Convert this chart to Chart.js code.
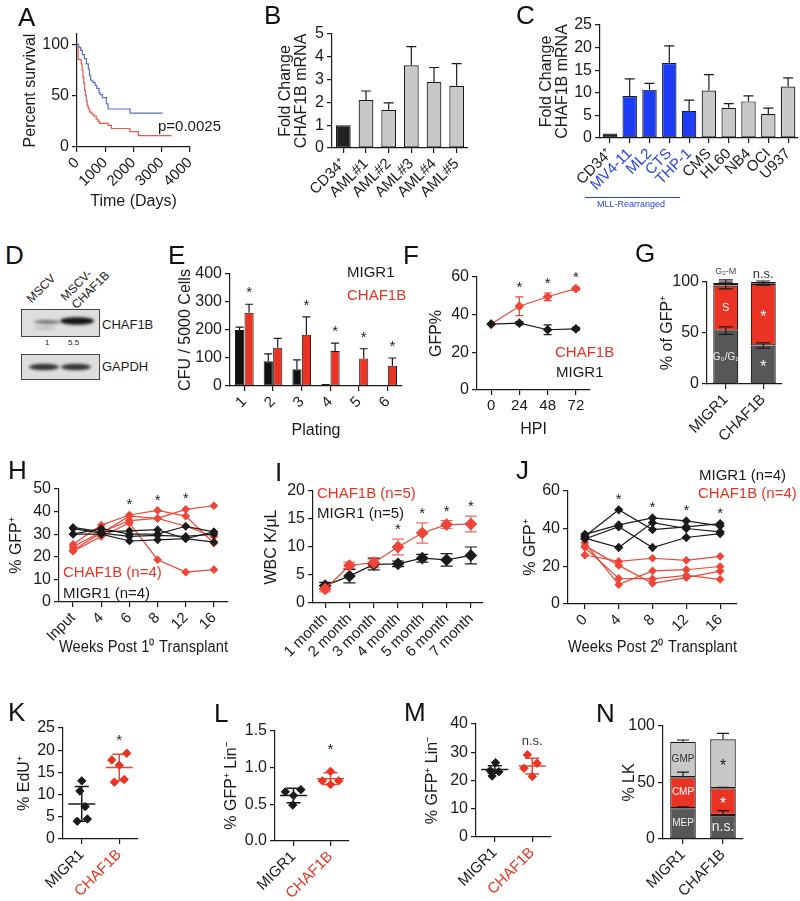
<!DOCTYPE html>
<html><head><meta charset="utf-8"><title>CHAF1B figure</title>
<script src="https://cdn.jsdelivr.net/npm/chart.js@4.4.1/dist/chart.umd.min.js"></script>
<style>
html,body{margin:0;padding:0;background:#fff;}
body{position:relative;width:800px;height:901px;overflow:hidden;font-family:'Liberation Sans',Arial,Helvetica,sans-serif;color:#1b1b1b;}
.tx{position:absolute;white-space:nowrap;line-height:1;}
.lt{position:absolute;font-size:26px;line-height:1;color:#111;}
.rot{transform:rotate(-45deg);transform-origin:0 100%;}
.red{color:#ea3323;}
</style></head><body>
<!-- panel letters -->
<div class="lt" style="left:18px;top:4px">A</div>
<div class="lt" style="left:264px;top:2px">B</div>
<div class="lt" style="left:516px;top:2px">C</div>
<div class="lt" style="left:5px;top:242px">D</div>
<div class="lt" style="left:168px;top:242px">E</div>
<div class="lt" style="left:403px;top:242px">F</div>
<div class="lt" style="left:635px;top:240px">G</div>
<div class="lt" style="left:8px;top:457px">H</div>
<div class="lt" style="left:275px;top:459px">I</div>
<div class="lt" style="left:516px;top:457px">J</div>
<div class="lt" style="left:8px;top:699px">K</div>
<div class="lt" style="left:214px;top:700px">L</div>
<div class="lt" style="left:404px;top:699px">M</div>
<div class="lt" style="left:596px;top:700px">N</div>

<!-- free text -->
<div class="tx" style="left:158px;top:118px;font-size:15px">p=0.0025</div>
<div class="tx" style="left:585px;top:197px;width:95px;height:1px;background:#2844f0"></div>
<div class="tx" style="left:597px;top:200px;font-size:9px;color:#2844f0">MLL-Rearranged</div>

<div class="tx rot" style="left:33px;top:293px;font-size:12px">MSCV</div>
<div class="tx rot" style="left:67px;top:291px;font-size:12px">MSCV-</div>
<div class="tx rot" style="left:78px;top:299px;font-size:12px">CHAF1B</div>
<div class="tx" style="left:102px;top:318px;font-size:13px">CHAF1B</div>
<div class="tx" style="left:102px;top:360px;font-size:13px">GAPDH</div>
<div class="tx" style="left:45px;top:339px;font-size:8px">1</div>
<div class="tx" style="left:68px;top:339px;font-size:8px">5.5</div>

<div class="tx" style="left:347px;top:264px;font-size:15px">MIGR1</div>
<div class="tx red" style="left:347px;top:287px;font-size:15px">CHAF1B</div>
<div class="tx red" style="left:555px;top:344px;font-size:15px">CHAF1B</div>
<div class="tx" style="left:556px;top:364px;font-size:15px">MIGR1</div>
<div class="tx red" style="left:63px;top:564px;font-size:15px">CHAF1B (n=4)</div>
<div class="tx" style="left:63px;top:585px;font-size:15px">MIGR1 (n=4)</div>
<div class="tx red" style="left:317px;top:485px;font-size:15px">CHAF1B (n=5)</div>
<div class="tx" style="left:317px;top:505px;font-size:15px">MIGR1 (n=5)</div>
<div class="tx" style="left:699px;top:467px;font-size:15px">MIGR1 (n=4)</div>
<div class="tx red" style="left:698px;top:485px;font-size:15px">CHAF1B (n=4)</div>

<canvas id="blot" width="110" height="90" style="position:absolute;left:0;top:300px;width:110px;height:90px"></canvas>

<script>
// ================= DATA =================
// A: Kaplan-Meier
const survBlueDays = [0, 60, 130, 190, 260, 330, 400, 440, 480, 560, 640, 700, 780, 820, 900, 1040, 1100, 1880, 3030];
const survBluePct  = [100, 97, 94, 90, 86, 81, 76, 70, 65, 63, 60, 57, 53, 51, 48, 42, 37, 33, 33];
const survRedDays  = [0, 40, 150, 180, 210, 240, 270, 300, 330, 360, 400, 450, 520, 600, 680, 750, 800, 1100, 1220, 1870, 2170, 3350];
const survRedPct   = [100, 85, 81, 75, 68, 62, 55, 50, 45, 40, 37, 34, 32, 30, 27, 25, 23, 21, 18, 15, 11, 11];
const survTicks = [0, 1000, 2000, 3000, 4000];
// B
const bLabels = ['CD34\u207A', 'AML#1', 'AML#2', 'AML#3', 'AML#4', 'AML#5'];
const bValues = [1.0, 2.1, 1.68, 3.63, 2.9, 2.73];
const bErrors = [0, 0.4, 0.3, 0.82, 0.63, 0.97];
// C
const cLabels = ['CD34\u207A', 'MV4-11', 'ML2', 'CTS', 'THP-1', 'CMS', 'HL60', 'NB4', 'OCI', 'U937'];
const cValues = [1.0, 9.3, 10.7, 16.6, 6.0, 10.5, 6.7, 8.1, 5.3, 11.4];
const cErrors = [0, 3.8, 1.4, 3.8, 2.4, 3.5, 0.9, 1.2, 1.3, 1.9];
const cGroup  = ['ctrl', 'mll', 'mll', 'mll', 'mll', 'other', 'other', 'other', 'other', 'other'];
// E
const ePlating = ['1', '2', '3', '4', '5', '6'];
const eMigr1 = [200, 88, 60, 3, 0, 0];
const eMigr1Err = [10, 27, 33, 2, 0, 0];
const eChaf1b = [262, 137, 183, 125, 98, 72];
const eChaf1bErr = [30, 33, 64, 28, 35, 28];
const eStars = [0, 2, 3, 4, 5];
// F
const fHours = ['0', '24', '48', '72'];
const fChaf1b = [35, 44.5, 49.5, 53.8];
const fChaf1bErr = [0, 5, 2, 0.8];
const fMigr1 = [35, 35.5, 32, 32.5];
const fMigr1Err = [0, 0.8, 2.6, 0.8];
const fStars = [1, 2, 3];
// G
const gGroups = ['MIGR1', 'CHAF1B'];
const gG0G1 = [52.3, 37.7];
const gG0G1Err = [3.7, 2.6];
const gS = [44.2, 60.5];
const gSErr = [3.3, 1.2];
const gG2M = [2.5, 1.8];
const gG2MErr = [3, 1];
// H
const hWeeks = ['Input', '4', '6', '8', '12', '16'];
const hMigr1 = [
  [33, 31, 31.5, 32, 28, 31],
  [32.5, 30.5, 29, 29.5, 29, 30],
  [30, 30, 27, 27.5, 28, 26.5],
  [30, 32.5, 30, 30, 33.5, 31]
];
const hChaf1b = [
  [25.5, 34, 38.5, 40.5, 38, 26],
  [23, 30.5, 38, 37, 41, 42.6],
  [24.5, 31, 36, 37, 33.5, 29],
  [22.5, 29, 35, 18.7, 13.2, 14.3]
];
const hStars = [2, 3, 4];
// I
const iMonths = ['1 month', '2 month', '3 month', '4 month', '5 month', '6 month', '7 month'];
const iChaf1b = [2.5, 6.7, 7.2, 10.0, 12.5, 14.0, 14.1];
const iChaf1bErr = [0.5, 0.6, 0.9, 1.4, 1.8, 0.7, 1.4];
const iMigr1 = [3.1, 4.8, 6.9, 7.0, 8.0, 7.7, 8.5];
const iMigr1Err = [0.6, 1.2, 1.0, 0.5, 0.7, 1.1, 1.5];
const iStars = [3, 4, 5, 6];
// J
const jWeeks = ['0', '4', '8', '12', '16'];
const jMigr1 = [
  [36, 50, 39.5, 41, 42.7],
  [37, 42, 45.7, 44.1, 41.5],
  [35, 30, 43.2, 40.1, 38.3],
  [34.5, 41, 30, 35.3, 37.4]
];
const jChaf1b = [
  [26, 22.6, 24.3, 23.2, 25.3],
  [31, 20.5, 11, 14, 17.5],
  [30, 13.6, 13.3, 15.2, 13.1],
  [32.5, 10.3, 17.6, 18.2, 19.9]
];
const jStars = [1, 2, 3, 4];
// K, L, M (individual mice)
const kmGroups = ['MIGR1', 'CHAF1B'];
const kMigr1 = [13.1, 10.8, 7.3, 4.5, 4.0];
const kMigr1Jit = [0, -0.05, 0.09, 0.15, -0.12];
const kChaf1b = [19.3, 17.8, 16.6, 13.4, 12.8];
const kChaf1bJit = [0.2, -0.2, 0, 0.13, -0.13];
const kMean = [7.9, 16.1];
const kSd = [3.9, 3.0];
const lMigr1 = [0.70, 0.67, 0.62, 0.49];
const lMigr1Jit = [0.2, -0.22, 0, -0.02];
const lChaf1b = [0.95, 0.82, 0.82, 0.77];
const lChaf1bJit = [0, -0.22, 0.22, 0];
const lMean = [0.62, 0.85];
const lSd = [0.1, 0.08];
const mMigr1 = [26.3, 23.5, 23.1, 21.6];
const mMigr1Jit = [0.02, -0.12, 0.11, -0.07];
const mChaf1b = [29.1, 26.1, 24.3, 21.4];
const mChaf1bJit = [-0.13, 0.13, -0.22, 0];
const mMean = [23.9, 25.1];
const mSd = [1.3, 2.8];
// N
const nGroups = ['MIGR1', 'CHAF1B'];
const nMEP = [27.2, 21.3];
const nMEPErr = [1.2, 3.8];
const nCMP = [27.5, 23.7];
const nCMPErr = [4.5, 0.8];
const nGMP = [31.4, 43.2];
const nGMPErr = [1.5, 5.3];

// ================= STYLE =================
const FONT = "'Liberation Sans', Arial, Helvetica, sans-serif";
const INK = '#1b1b1b', RED = '#ea3323', RED_L = '#ef4538', RED_E = '#f26a5e';
const BLUE = '#1c3cf5', BLUE_T = '#2844f0';
const GRAY_L = '#c8c8c8', GRAY_D = '#575757';

Chart.defaults.font.family = FONT;
Chart.defaults.color = INK;
Chart.defaults.animation = false;
Chart.defaults.events = [];
Chart.defaults.plugins.legend.display = false;
Chart.defaults.plugins.tooltip.enabled = false;

const fnt = (size, extra) => Object.assign({family: FONT, size: size, lineHeight: 1}, extra || {});
const gridOpt = {display: true, drawOnChartArea: false, drawTicks: true, tickLength: 5, color: INK, lineWidth: 1.2, offset: false};
const borderOpt = {display: true, color: INK, width: 1.2};

function yAx(min, max, ticks, title, tcx, cl, fmt) {
  return {
    type: 'linear', min: min, max: max,
    afterBuildTicks: s => { s.ticks = ticks.map(v => ({value: v})); },
    ticks: {color: INK, font: fnt(16), padding: 3, callback: fmt || (v => String(v))},
    grid: Object.assign({}, gridOpt), border: Object.assign({}, borderOpt),
    title: title ? {display: true, text: title, color: INK, font: fnt(16), padding: {top: tcx - cl - 8, bottom: 0}} : {display: false}
  };
}
function xCat(labels, rot, title, tcy, cb, colorFn) {
  return {
    type: 'category', labels: labels, offset: true,
    grid: Object.assign({}, gridOpt), border: Object.assign({}, borderOpt),
    ticks: {color: colorFn || INK, font: fnt(15), padding: 3, minRotation: rot, maxRotation: rot, autoSkip: false},
    title: title ? {display: true, text: title, color: INK, font: fnt(16), padding: {top: 0, bottom: cb - tcy - 8}} : {display: false}
  };
}
function xGroup(labels, colorFn) {
  return {
    type: 'linear', min: -0.5, max: 1.5,
    afterBuildTicks: s => { s.ticks = labels.map((l, i) => ({value: i})); },
    grid: Object.assign({}, gridOpt), border: Object.assign({}, borderOpt),
    ticks: {color: colorFn || INK, font: fnt(15), padding: 3, minRotation: 45, maxRotation: 45, callback: v => labels[v]}
  };
}

function panel(box, plot, cfg) {
  const cl = box[0], ct = box[1], cw = box[2], ch = box[3];
  const pl = plot[0], pt = plot[1], pr = plot[2], pb = plot[3];
  const cv = document.createElement('canvas');
  cv.width = cw; cv.height = ch;
  cv.style.cssText = 'position:absolute;left:' + cl + 'px;top:' + ct + 'px;width:' + cw + 'px;height:' + ch + 'px';
  document.body.insertBefore(cv, document.body.firstChild);
  const o = cfg.options;
  o.responsive = false; o.maintainAspectRatio = false; o.devicePixelRatio = 1;
  o.layout = {padding: {left: 0, top: pt - ct, right: cl + cw - pr, bottom: 0}};
  o.scales.x.afterFit = s => { s.height = ct + ch - pb; s.paddingLeft = 0; s.paddingRight = 0; };
  o.scales.y.afterFit = s => { s.width = pl - cl; s.paddingTop = 0; s.paddingBottom = 0; };
  return new Chart(cv.getContext('2d'), cfg);
}

// error bars drawn through the chart's own elements and y scale
function errPlugin(specs, before) {
  const draw = chart => {
    const ctx = chart.ctx, ys = chart.scales.y;
    ctx.save();
    specs.forEach(sp => {
      const meta = chart.getDatasetMeta(sp.ds);
      meta.data.forEach((el, j) => {
        const e = sp.err[j];
        if (!e) return;
        const top = ys.getValueForPixel(el.y);
        const x = el.x;
        const y1 = ys.getPixelForValue(top + e);
        const y0 = sp.mode === 'both' ? ys.getPixelForValue(top - e) : el.y;
        ctx.strokeStyle = sp.color || INK; ctx.lineWidth = sp.width || 1.2;
        ctx.beginPath();
        ctx.moveTo(x, y0); ctx.lineTo(x, y1);
        ctx.moveTo(x - sp.cap, y1); ctx.lineTo(x + sp.cap, y1);
        if (sp.mode === 'both') { ctx.moveTo(x - sp.cap, y0); ctx.lineTo(x + sp.cap, y0); }
        ctx.stroke();
      });
    });
    ctx.restore();
  };
  return before ? {id: 'errbars', beforeDatasetsDraw: draw} : {id: 'errbars', afterDatasetsDraw: draw};
}
// text annotations positioned by data values
function textPlugin(items) {
  return {id: 'annot', afterDatasetsDraw(chart) {
    const ctx = chart.ctx, xs = chart.scales.x, ys = chart.scales.y;
    ctx.save();
    ctx.textAlign = 'center'; ctx.textBaseline = 'middle';
    items.forEach(it => {
      ctx.font = (it.size || 15) + 'px ' + FONT;
      ctx.fillStyle = it.color || INK;
      let x = it.ds != null ? chart.getDatasetMeta(it.ds).data[it.x].x : xs.getPixelForValue(it.x);
      ctx.fillText(it.text, x + (it.dx || 0), ys.getPixelForValue(it.y) + (it.dy || 0));
    });
    ctx.restore();
  }};
}
// mean +/- SD markers
function meanSdPlugin(specs) {
  return {id: 'meansd', beforeDatasetsDraw(chart) {
    const ctx = chart.ctx, xs = chart.scales.x, ys = chart.scales.y;
    ctx.save();
    specs.forEach(sp => {
      const x = xs.getPixelForValue(sp.x), m = ys.getPixelForValue(sp.mean);
      const a = ys.getPixelForValue(sp.mean + sp.sd), b = ys.getPixelForValue(sp.mean - sp.sd);
      ctx.strokeStyle = sp.color; ctx.lineWidth = 1.5;
      ctx.beginPath();
      ctx.moveTo(x - 13.5, m); ctx.lineTo(x + 13.5, m);
      ctx.moveTo(x, a); ctx.lineTo(x, b);
      ctx.moveTo(x - 7, a); ctx.lineTo(x + 7, a);
      ctx.moveTo(x - 7, b); ctx.lineTo(x + 7, b);
      ctx.stroke();
    });
    ctx.restore();
  }};
}
const maxCol = (rows, i) => Math.max.apply(null, rows.map(r => r[i]));

// ================= A =================
panel([20, 20, 240, 192], [77, 34, 190, 147], {
  type: 'line',
  data: {datasets: [
    {data: survBlueDays.map((d, i) => ({x: d, y: survBluePct[i]})), borderColor: '#5a71c6', borderWidth: 1.2, pointRadius: 0, stepped: true},
    {data: survRedDays.map((d, i) => ({x: d, y: survRedPct[i]})), borderColor: '#f1574c', borderWidth: 1.2, pointRadius: 0, stepped: true}
  ]},
  options: {scales: {
    x: {type: 'linear', min: 0, max: 4000,
        afterBuildTicks: s => { s.ticks = survTicks.map(v => ({value: v})); },
        grid: Object.assign({}, gridOpt), border: Object.assign({}, borderOpt),
        ticks: {color: INK, font: fnt(15), padding: 3, minRotation: 45, maxRotation: 45, callback: v => String(v)},
        title: {display: true, text: 'Time (Days)', color: INK, font: fnt(16), padding: {top: 0, bottom: 2}}},
    y: yAx(0, 110, [0, 50, 100], 'Percent survival', 31, 20)
  }}
});

// ================= B =================
panel([270, 20, 205, 230], [332, 34, 468, 148], {
  type: 'bar',
  data: {labels: bLabels, datasets: [{data: bValues,
    backgroundColor: bValues.map((v, i) => i === 0 ? '#222' : GRAY_L),
    borderColor: INK, borderWidth: 1.2, borderSkipped: false, barPercentage: 0.65, categoryPercentage: 1}]},
  options: {scales: {x: xCat(bLabels, 45), y: yAx(0, 5, [0, 1, 2, 3, 4, 5], ['Fold Change', 'CHAF1B mRNA'], 286, 270)}},
  plugins: [errPlugin([{ds: 0, err: bErrors, mode: 'up', cap: 5}])]
});

// ================= C =================
panel([535, 10, 265, 200], [600, 25, 798, 138], {
  type: 'bar',
  data: {labels: cLabels, datasets: [{data: cValues,
    backgroundColor: cGroup.map(g => g === 'ctrl' ? '#222' : g === 'mll' ? BLUE : GRAY_L),
    borderColor: INK, borderWidth: 1.2, borderSkipped: false, barPercentage: 0.73, categoryPercentage: 1}]},
  options: {scales: {x: xCat(cLabels, 45, null, 0, 0, ctx => cGroup[ctx.index] === 'mll' ? BLUE_T : INK),
                     y: yAx(0, 25, [0, 5, 10, 15, 20, 25], ['Fold Change', 'CHAF1B mRNA'], 547, 535)}},
  plugins: [errPlugin([{ds: 0, err: cErrors, mode: 'up', cap: 5}])]
});

// ================= D (western blot image) =================
(function () {
  const c = document.getElementById('blot').getContext('2d');
  const oy = 300;
  function box(y0, y1) {
    c.fillStyle = '#dedede'; c.fillRect(21, y0 - oy, 79, y1 - y0);
    c.strokeStyle = '#444'; c.lineWidth = 1; c.strokeRect(21.5, y0 - oy + 0.5, 78, y1 - y0 - 1);
  }
  function band(cx, cy, rx, ry, col) {
    c.save(); c.filter = 'blur(1.6px)'; c.fillStyle = col;
    c.beginPath(); c.ellipse(cx, cy - oy, rx, ry, 0, 0, Math.PI * 2); c.fill(); c.restore();
  }
  box(309, 337); box(354, 380);
  band(47, 322, 13, 2.2, 'rgba(60,60,60,0.6)');
  band(45, 328, 10, 1.3, 'rgba(90,90,90,0.3)');
  band(77, 321, 17, 3.8, 'rgba(8,8,8,0.95)');
  band(44, 367, 15, 3.2, 'rgba(20,20,20,0.85)');
  band(76, 367, 15, 3.2, 'rgba(20,20,20,0.85)');
})();

// ================= E =================
panel([175, 255, 240, 185], [230, 274, 402, 386], {
  type: 'bar',
  data: {labels: ePlating, datasets: [
    {data: eMigr1, backgroundColor: '#111', borderColor: INK, borderWidth: 1, borderSkipped: false, barPercentage: 0.97, categoryPercentage: 0.66},
    {data: eChaf1b, backgroundColor: RED, borderColor: INK, borderWidth: 1, borderSkipped: false, barPercentage: 0.97, categoryPercentage: 0.66}
  ]},
  options: {scales: {x: xCat(ePlating, 45, 'Plating', 431, 440), y: yAx(0, 400, [0, 100, 200, 300, 400], 'CFU / 5000 Cells', 186, 175)}},
  plugins: [errPlugin([{ds: 0, err: eMigr1Err, mode: 'up', cap: 4}, {ds: 1, err: eChaf1bErr, mode: 'up', cap: 4}]),
            textPlugin(eStars.map(i => ({ds: 1, x: i, y: eChaf1b[i] + eChaf1bErr[i], dy: -11, text: '*'})))]
});

// ================= F =================
panel([425, 255, 200, 185], [477, 277, 590, 390], {
  type: 'line',
  data: {labels: fHours, datasets: [
    {data: fMigr1, borderColor: INK, backgroundColor: INK, borderWidth: 1.2, pointStyle: 'rectRot', pointRadius: 4},
    {data: fChaf1b, borderColor: RED_L, backgroundColor: RED_L, borderWidth: 1.2, pointStyle: 'rectRot', pointRadius: 4}
  ]},
  options: {scales: {x: xCat(fHours, 0, 'HPI', 430, 440), y: yAx(0, 60, [0, 20, 40, 60], 'GFP%', 437, 425)}},
  plugins: [errPlugin([{ds: 0, err: fMigr1Err, mode: 'both', cap: 4}, {ds: 1, err: fChaf1bErr, mode: 'both', cap: 4, color: RED_L}], true),
            textPlugin(fStars.map(i => ({x: i, y: fChaf1b[i] + fChaf1bErr[i], dy: -9, text: '*'})))]
});

// ================= G =================
panel([655, 240, 145, 210], [707, 282, 782, 384], {
  type: 'bar',
  data: {labels: gGroups, datasets: [
    {data: gG0G1, backgroundColor: GRAY_D, borderColor: INK, borderWidth: 1.2, borderSkipped: false, barPercentage: 0.667, categoryPercentage: 1},
    {data: gS, backgroundColor: RED, borderColor: INK, borderWidth: 1.2, borderSkipped: false, barPercentage: 0.667, categoryPercentage: 1},
    {data: gG2M, backgroundColor: GRAY_L, borderColor: INK, borderWidth: 1.2, borderSkipped: false, barPercentage: 0.667, categoryPercentage: 1}
  ]},
  options: {scales: {x: Object.assign(xCat(gGroups, 45), {stacked: true}),
                     y: Object.assign(yAx(0, 100, [0, 50, 100], '% of GFP\u207A', 668, 655), {stacked: true})}},
  plugins: [errPlugin([{ds: 0, err: gG0G1Err, mode: 'both', cap: 7}, {ds: 1, err: gSErr, mode: 'both', cap: 7}, {ds: 2, err: gG2MErr, mode: 'up', cap: 7}]),
            textPlugin([
              {x: 0, y: gG0G1[0] + gS[0] + gG2M[0] + gG2MErr[0], dy: -8, text: 'G\u2082-M', size: 9, color: '#444'},
              {x: 1, y: gG0G1[1] + gS[1] + gG2M[1], dy: -8, text: 'n.s.', size: 13, color: '#333'},
              {x: 0, y: gG0G1[0] + gS[0] / 2, text: 'S', size: 11, color: '#fff'},
              {x: 0, y: gG0G1[0] / 2, text: 'G\u2080/G\u2081', size: 10, color: '#eee'},
              {x: 1, y: gG0G1[1] + gS[1] / 2, dy: 3, text: '*', size: 16, color: '#fff'},
              {x: 1, y: gG0G1[1] / 2, dy: 3, text: '*', size: 16, color: '#fff'}
            ])]
});

// ================= H =================
panel([5, 470, 240, 190], [59, 489, 228, 602], {
  type: 'line',
  data: {labels: hWeeks, datasets:
    hMigr1.map(r => ({data: r, borderColor: INK, backgroundColor: INK, borderWidth: 1.2, pointStyle: 'rectRot', pointRadius: 3.5}))
    .concat(hChaf1b.map(r => ({data: r, borderColor: RED_L, backgroundColor: RED_L, borderWidth: 1.2, pointStyle: 'rectRot', pointRadius: 3.5})))},
  options: {scales: {x: xCat(hWeeks, 45, 'Weeks Post 1\u2070 Transplant', 648, 660), y: yAx(0, 50, [0, 10, 20, 30, 40, 50], '% GFP\u207A', 17, 5)}},
  plugins: [textPlugin(hStars.map(i => ({x: i, y: Math.max(maxCol(hMigr1, i), maxCol(hChaf1b, i)), dy: -10, text: '*'})))]
});

// ================= I =================
panel([262, 470, 230, 195], [313, 491, 483, 603], {
  type: 'line',
  data: {labels: iMonths, datasets: [
    {data: iChaf1b, borderColor: RED_L, backgroundColor: RED_L, borderWidth: 1.2, pointStyle: 'rectRot', pointRadius: 5.5},
    {data: iMigr1, borderColor: INK, backgroundColor: INK, borderWidth: 1.2, pointStyle: 'rectRot', pointRadius: 5.5}
  ]},
  options: {scales: {x: xCat(iMonths, 45), y: yAx(0, 20, [0, 5, 10, 15, 20], 'WBC K/\u03BCL', 272, 262)}},
  plugins: [errPlugin([{ds: 0, err: iChaf1bErr, mode: 'both', cap: 6, color: RED_E}, {ds: 1, err: iMigr1Err, mode: 'both', cap: 6}], true),
            textPlugin(iStars.map(i => ({x: i, y: iChaf1b[i] + iChaf1bErr[i], dy: -9, text: '*'})))]
});

// ================= J =================
panel([520, 470, 280, 190], [568, 491, 737, 604], {
  type: 'line',
  data: {labels: jWeeks, datasets:
    jMigr1.map(r => ({data: r, borderColor: INK, backgroundColor: INK, borderWidth: 1.2, pointStyle: 'rectRot', pointRadius: 3.8}))
    .concat(jChaf1b.map(r => ({data: r, borderColor: RED_L, backgroundColor: RED_L, borderWidth: 1.2, pointStyle: 'rectRot', pointRadius: 3.5})))},
  options: {scales: {x: xCat(jWeeks, 45, 'Weeks Post 2\u2070 Transplant', 648, 660), y: yAx(0, 60, [0, 20, 40, 60], '% GFP\u207A', 531, 520)}},
  plugins: [textPlugin(jStars.map(i => ({x: i, y: maxCol(jMigr1, i), dy: -10, text: '*'})))]
});

// ================= K, L, M =================
const grpColor = ctx => ctx.index === 1 ? RED : INK;
function dotPanel(box, plot, m1, m1j, c1, c1j, mean, sd, yopt, annot) {
  return panel(box, plot, {
    type: 'scatter',
    data: {datasets: [
      {data: m1.map((v, i) => ({x: 0 + m1j[i], y: v})), backgroundColor: INK, borderColor: INK, pointStyle: 'rectRot', pointRadius: 4.2},
      {data: c1.map((v, i) => ({x: 1 + c1j[i], y: v})), backgroundColor: RED, borderColor: RED, pointStyle: 'rectRot', pointRadius: 4.2}
    ]},
    options: {scales: {x: xGroup(kmGroups, grpColor), y: yopt}},
    plugins: [meanSdPlugin([{x: 0, mean: mean[0], sd: sd[0], color: INK}, {x: 1, mean: mean[1], sd: sd[1], color: RED_L}]), textPlugin(annot)]
  });
}
dotPanel([15, 715, 135, 186], [63, 728, 138, 839], kMigr1, kMigr1Jit, kChaf1b, kChaf1bJit, kMean, kSd,
  yAx(0, 25, [0, 5, 10, 15, 20, 25], '% EdU\u207A', 25, 15),
  [{x: 1, y: Math.max.apply(null, kChaf1b), dy: -12, text: '*'}]);
dotPanel([222, 715, 135, 186], [275, 731, 349, 841], lMigr1, lMigr1Jit, lChaf1b, lChaf1bJit, lMean, lSd,
  yAx(0, 1.5, [0, 0.5, 1.0, 1.5], '% GFP\u207A Lin\u207B', 232, 222, v => v.toFixed(1)),
  [{x: 1, y: Math.max.apply(null, lChaf1b), dy: -21, text: '*'}]);
dotPanel([422, 710, 135, 191], [476, 724, 551, 837], mMigr1, mMigr1Jit, mChaf1b, mChaf1bJit, mMean, mSd,
  yAx(0, 40, [0, 10, 20, 30, 40], '% GFP\u207A Lin\u207B', 433, 422),
  [{x: 1, y: Math.max.apply(null, mChaf1b), dy: -13, text: 'n.s.', size: 13, color: '#333'}]);

// ================= N =================
panel([620, 715, 130, 186], [663, 726, 743, 839], {
  type: 'bar',
  data: {labels: nGroups, datasets: [
    {data: nMEP, backgroundColor: GRAY_D, borderColor: INK, borderWidth: 1.2, borderSkipped: false, barPercentage: 0.64, categoryPercentage: 1},
    {data: nCMP, backgroundColor: RED, borderColor: INK, borderWidth: 1.2, borderSkipped: false, barPercentage: 0.64, categoryPercentage: 1},
    {data: nGMP, backgroundColor: GRAY_L, borderColor: INK, borderWidth: 1.2, borderSkipped: false, barPercentage: 0.64, categoryPercentage: 1}
  ]},
  options: {scales: {x: Object.assign(xCat(nGroups, 45), {stacked: true}),
                     y: Object.assign(yAx(0, 100, [0, 50, 100], '% LK', 630, 620), {stacked: true})}},
  plugins: [errPlugin([{ds: 0, err: nMEPErr, mode: 'up', cap: 6}, {ds: 1, err: nCMPErr, mode: 'up', cap: 6}, {ds: 2, err: nGMPErr, mode: 'up', cap: 6}]),
            textPlugin([
              {x: 0, y: nMEP[0] + nCMP[0] + nGMP[0] / 2, text: 'GMP', size: 10, color: '#333'},
              {x: 0, y: nMEP[0] + nCMP[0] / 2, text: 'CMP', size: 10, color: '#fff'},
              {x: 0, y: nMEP[0] / 2, text: 'MEP', size: 10, color: '#eee'},
              {x: 1, y: nMEP[1] + nCMP[1] + nGMP[1] / 2, dy: 3, text: '*', size: 16, color: '#222'},
              {x: 1, y: nMEP[1] + nCMP[1] / 2, dy: 3, text: '*', size: 16, color: '#fff'},
              {x: 1, y: nMEP[1] / 2, text: 'n.s.', size: 14, color: '#eee'}
            ])]
});
</script>
</body></html>
